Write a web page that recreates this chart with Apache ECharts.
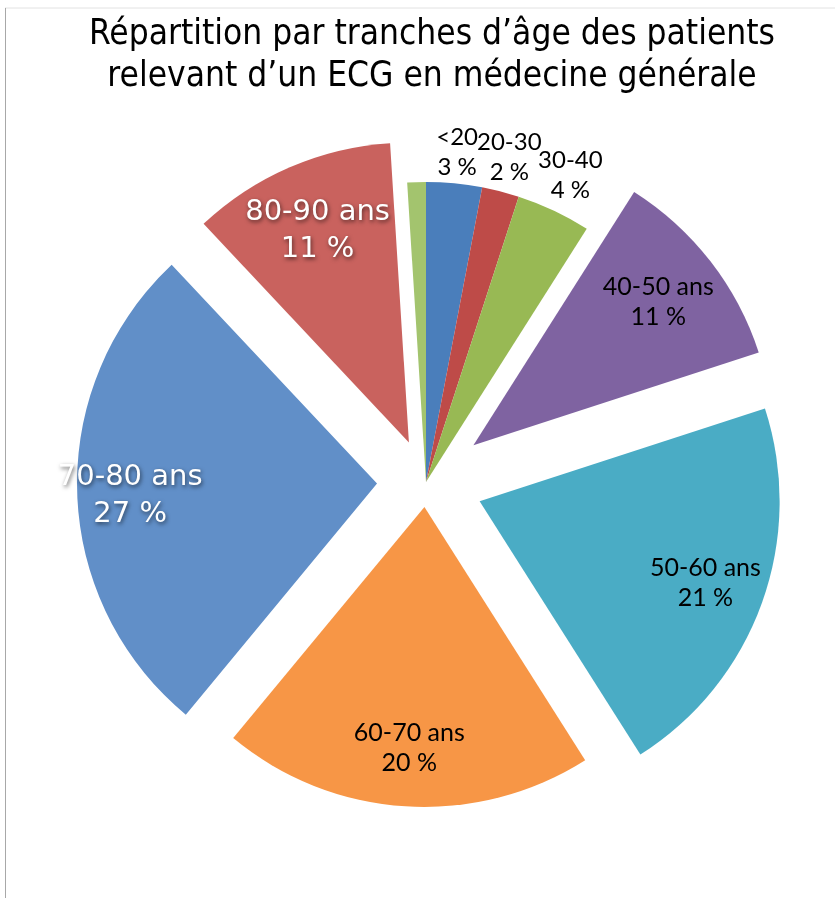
<!DOCTYPE html>
<html>
<head>
<meta charset="utf-8">
<script src="https://cdn.jsdelivr.net/npm/echarts@6/dist/echarts.min.js"></script>
<style>html,body{margin:0;padding:0;background:#fff;}#chart{width:835px;height:898px;}</style>
</head>
<body>
<div id="chart"></div>
<script>
// ---- Data ----
const categories = ['<20', '20-30', '30-40', '40-50 ans', '50-60 ans', '60-70 ans', '70-80 ans', '80-90 ans', '≥90 ans'];
const values = [3, 2, 4, 11, 21, 20, 27, 11, 1];
const titleLines = ['Répartition par tranches d’âge des patients', 'relevant d’un ECG en médecine générale'];

// ---- Style / layout config ----
const colors = ['#4A7EBB', '#BE4B48', '#98B954', '#7F63A1', '#4AACC5', '#F79646', '#618FC8', '#C9625E', '#A3C46E'];
const CX = 426, CY = 482, R = 300;
const explodeOffset = {3: 60, 4: 57, 5: 25, 6: 49, 7: 43};      // px, exploded slices
const labelDist = {0: 331, 1: 335, 2: 339, 3: 234, 4: 240, 5: 241, 6: 247, 7: 230}; // from slice apex
const labelNudgeY = {6: 5};
const whiteLabels = [6, 7];
const hiddenLabels = [8];

const total = values.reduce((a, b) => a + b, 0);
function midDir(i) {
  let s = 0;
  for (let k = 0; k < i; k++) s += values[k];
  const a = (s + values[i] / 2) / total * 2 * Math.PI;
  return [Math.sin(a), -Math.cos(a)];
}

const blackLabel = {
  color: '#000', fontFamily: 'Lato', fontSize: 25, lineHeight: 30
};
const outerLabel = {
  color: '#000', fontFamily: 'Lato', fontSize: 24, lineHeight: 30
};
const whiteLabel = {
  color: '#fff', fontFamily: 'DejaVu Sans', fontSize: 29, lineHeight: 37,
  textShadowColor: 'rgba(0,0,0,0.6)', textShadowBlur: 4, textShadowOffsetX: 1, textShadowOffsetY: 2
};

function labelFor(k) {
  let base = blackLabel;
  if (whiteLabels.includes(k)) base = whiteLabel;
  else if (explodeOffset[k] === undefined) base = outerLabel;
  return Object.assign({}, base, {show: true});
}

function makeSeries(center, visibleIdx) {
  return {
    type: 'pie',
    center: center,
    radius: [0, R],
    startAngle: 90,
    clockwise: true,
    silent: true,
    animation: false,
    avoidLabelOverlap: false,
    itemStyle: {borderWidth: 0},
    emphasis: {disabled: true},
    label: {position: 'inside', formatter: p => p.name + '\n' + p.value + ' %'},
    labelLine: {show: false},
    data: categories.map((n, k) => {
      const vis = visibleIdx.includes(k);
      return {
        name: n,
        value: values[k],
        itemStyle: {color: vis ? colors[k] : 'rgba(0,0,0,0)', borderWidth: 0},
        label: (vis && !hiddenLabels.includes(k)) ? labelFor(k) : {show: false}
      };
    }),
    labelLayout: function (p) {
      const k = p.dataIndex;
      const d = midDir(k);
      const dist = labelDist[k] || 0;
      return {
        x: center[0] + d[0] * dist,
        y: center[1] + d[1] * dist + (labelNudgeY[k] || 0),
        align: 'center', verticalAlign: 'middle'
      };
    }
  };
}

const series = [];
const baseVisible = categories.map((_, k) => k).filter(k => explodeOffset[k] === undefined);
series.push(makeSeries([CX, CY], baseVisible));
Object.keys(explodeOffset).forEach(key => {
  const i = +key;
  const d = midDir(i);
  const off = explodeOffset[i];
  series.push(makeSeries([CX + d[0] * off, CY + d[1] * off], [i]));
});

const chart = echarts.init(document.getElementById('chart'), null, {renderer: 'canvas'});
chart.setOption({
  backgroundColor: '#fff',
  animation: false,
  title: {
    text: titleLines.join('\n'),
    left: 427,
    top: 9,
    textAlign: 'center',
    textStyle: {
      fontFamily: "'DejaVu Sans Condensed', 'Liberation Sans', sans-serif",
      fontSize: 35, fontWeight: 'normal', color: '#000', lineHeight: 42
    }
  },
  graphic: [
    {type: 'line', shape: {x1: 5, y1: 8, x2: 835, y2: 8}, style: {stroke: '#e2e2e2', lineWidth: 1}, silent: true},
    {type: 'line', shape: {x1: 5.5, y1: 8, x2: 5.5, y2: 898}, style: {stroke: '#a8a8a8', lineWidth: 1}, silent: true}
  ],
  series: series
});
</script>
</body>
</html>
